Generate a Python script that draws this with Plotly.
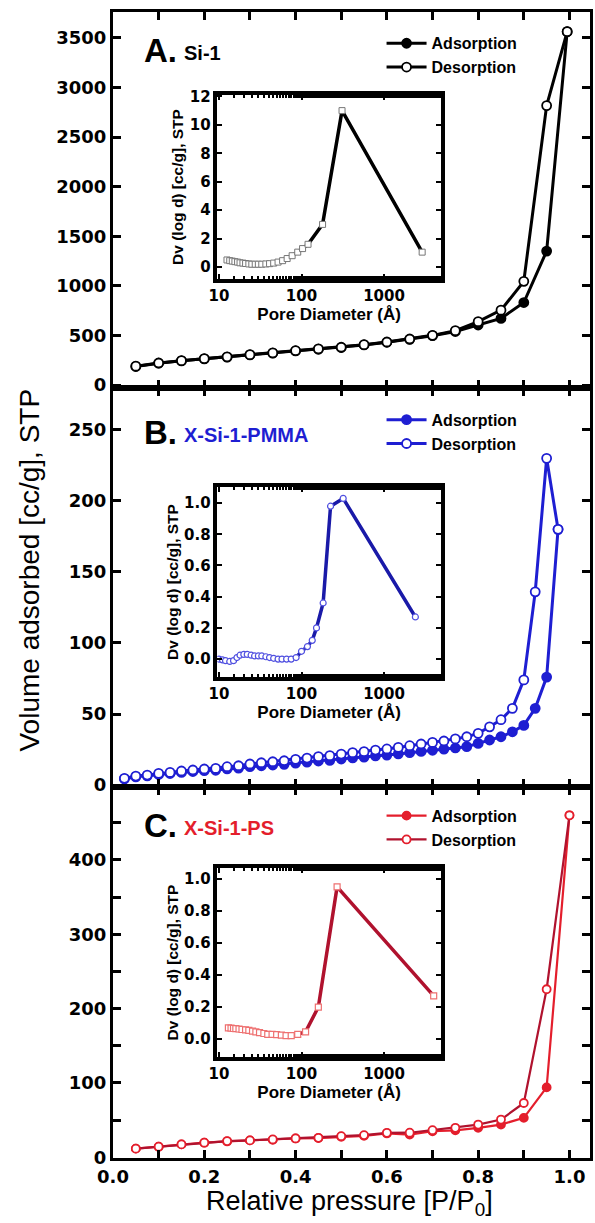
import plotly.graph_objects as go

# ---------------- data ----------------
# Panel A: Si-1
pA = [0.05, 0.10, 0.15, 0.20, 0.25, 0.30, 0.35, 0.40, 0.45, 0.50,
      0.55, 0.60, 0.65, 0.70, 0.75, 0.80, 0.85, 0.90, 0.95, 0.995]
adsA = [187, 220, 244, 264, 281, 304, 321, 344, 361, 378,
        404, 431, 461, 498, 540, 605, 672, 832, 1351, 3564]
desA = [190, 222, 246, 266, 284, 306, 324, 346, 364, 381,
        407, 434, 464, 501, 548, 639, 755, 1046, 2818, 3564]

# Panel B: X-Si-1-PMMA
pB = [0.025, 0.05, 0.075, 0.1, 0.125, 0.15, 0.175, 0.2, 0.225, 0.25,
      0.275, 0.3, 0.325, 0.35, 0.375, 0.4, 0.425, 0.45, 0.475, 0.5,
      0.525, 0.55, 0.575, 0.6, 0.625, 0.65, 0.675, 0.7, 0.725, 0.75,
      0.775, 0.8, 0.825, 0.85, 0.875, 0.9, 0.925, 0.95, 0.975]
adsB = [4.3, 5.8, 6.5, 7.5, 8.1, 8.9, 9.5, 10.1, 10.4, 11.4,
        11.9, 12.9, 13.6, 14.1, 14.6, 15.4, 16.1, 16.9, 17.4, 18.3,
        19.1, 19.6, 20.5, 21.1, 21.9, 22.8, 23.7, 24.5, 25.3, 26.1,
        27.0, 29.3, 31.7, 34.0, 37.5, 42.0, 54.0, 76.0, 180.0]
desB = [4.7, 6.3, 7.0, 8.2, 8.9, 9.9, 10.6, 11.3, 11.7, 12.9,
        13.6, 14.8, 15.7, 16.4, 17.1, 18.1, 19.0, 20.0, 20.7, 21.8,
        22.8, 23.5, 24.6, 25.4, 26.5, 27.7, 28.9, 30.0, 31.0, 32.5,
        34.0, 36.4, 41.0, 46.0, 54.0, 74.0, 136.0, 230.0, 180.0]

# Panel C: X-Si-1-PS
pC = [0.05, 0.10, 0.15, 0.20, 0.25, 0.30, 0.35, 0.40, 0.45, 0.50,
      0.55, 0.60, 0.65, 0.70, 0.75, 0.80, 0.85, 0.90, 0.95, 1.0]
adsC = [11.6, 14.2, 17.3, 19.6, 21.3, 22.7, 23.5, 25.3, 25.8, 27.6,
        28.8, 32.0, 30.5, 35.0, 36.2, 39.6, 44.0, 53.0, 94.0, 460.0]
desC = [11.6, 14.2, 17.3, 19.6, 21.8, 22.7, 24.0, 25.3, 26.2, 28.4,
        29.8, 32.9, 33.0, 36.4, 39.6, 44.0, 50.7, 73.0, 226.0, 460.0]

# Insets: pore size distributions
dA = [12.5, 13.5, 14.5, 15.6, 16.8, 18, 19.5, 21, 23, 25, 27.5, 30, 33, 37,
      41, 46, 52, 59, 67, 77, 90, 103, 120, 180, 310, 2900]
dvA = [0.5, 0.45, 0.42, 0.38, 0.35, 0.3, 0.28, 0.25, 0.22, 0.2, 0.2, 0.2, 0.2,
       0.22, 0.24, 0.28, 0.35, 0.45, 0.6, 0.8, 1.05, 1.3, 1.6, 3.0, 11.0, 1.05]

dB = [10, 11, 12, 13.5, 15, 16.5, 18, 20, 22, 24.5, 27, 30, 33, 37, 41, 46,
      52, 58, 66, 75, 86, 100, 118, 135, 152, 183, 225, 320, 2400]
dvB = [0.0, -0.005, -0.01, -0.015, -0.01, 0.01, 0.025, 0.03, 0.03, 0.025,
       0.02, 0.02, 0.02, 0.015, 0.01, 0.005, 0.0, 0.0, 0.0, 0.0, 0.01, 0.05,
       0.08, 0.12, 0.2, 0.36, 0.98, 1.03, 0.27]

dC = [13, 14, 15, 16, 17.5, 19, 21, 23, 25.5, 28, 31, 35, 39, 44, 50, 57,
      65, 75, 90, 112, 160, 270, 4000]
dvC = [0.07, 0.068, 0.066, 0.065, 0.063, 0.06, 0.058, 0.055, 0.05, 0.045,
       0.04, 0.035, 0.03, 0.03, 0.028, 0.025, 0.022, 0.022, 0.03, 0.045,
       0.2, 0.95, 0.27]

x_ticks = [0.0, 0.2, 0.4, 0.6, 0.8, 1.0]
inset_xticks = [10, 100, 1000]

# ---------------- styles ----------------
BLACK = "#000000"
BLUE = "#1e1ed2"
RED = "#e41e2c"
DARKRED = "#b0122e"
TICKFONT = dict(family="DejaVu Sans", size=18, color="black", weight="bold")
INSET_TICKFONT = dict(family="DejaVu Sans", size=15, color="black", weight="bold")
LABFONT = "Liberation Sans"

fig = go.Figure()


def iso(x, y, color, xa, ya, leg, name, filled, msize=9, lw=3, lcolor=None):
    fig.add_trace(go.Scatter(
        x=x, y=y, xaxis=xa, yaxis=ya, legend=leg, name=name,
        mode="lines+markers",
        line=dict(color=lcolor or color, width=lw),
        marker=dict(symbol="circle", size=msize,
                    color=color if filled else "white",
                    line=dict(color=color, width=1.8)),
    ))


iso(pA, adsA, BLACK, "x", "y", "legend", "Adsorption", True)
iso(pA, desA, BLACK, "x", "y", "legend", "Desorption", False)
iso(pB, adsB, BLUE, "x2", "y2", "legend2", "Adsorption", True)
iso(pB, desB, BLUE, "x2", "y2", "legend2", "Desorption", False)
iso(pC, adsC, RED, "x3", "y3", "legend3", "Adsorption", True, msize=8, lw=2.2)
iso(pC, desC, RED, "x3", "y3", "legend3", "Desorption", False, msize=8, lw=2.2, lcolor=DARKRED)

# insets
fig.add_trace(go.Scatter(x=dA, y=dvA, xaxis="x4", yaxis="y4", showlegend=False,
                         mode="lines+markers", line=dict(color="black", width=3.5),
                         marker=dict(symbol="square", size=6, color="white",
                                     line=dict(color="#777777", width=1))))
fig.add_trace(go.Scatter(x=dB, y=dvB, xaxis="x5", yaxis="y5", showlegend=False,
                         mode="lines+markers", line=dict(color="#1a1aa8", width=3.5),
                         marker=dict(symbol="circle", size=6, color="white",
                                     line=dict(color="#5050e0", width=1.2))))
fig.add_trace(go.Scatter(x=dC, y=dvC, xaxis="x6", yaxis="y6", showlegend=False,
                         mode="lines+markers", line=dict(color=DARKRED, width=3.5),
                         marker=dict(symbol="square", size=6, color="white",
                                     line=dict(color="#ee7070", width=1.2))))

frame = dict(showline=True, linewidth=3, linecolor="black", mirror="allticks",
             ticks="inside", tickcolor="black", showgrid=False, zeroline=False)

xmain = dict(frame, range=[0, 1.045], tickvals=x_ticks, ticklen=8, tickwidth=2.5,
             minor=dict(ticks="inside", ticklen=8, tickwidth=2.5, dtick=0.1,
                        tick0=0, tickcolor="black", showgrid=False),
             tickformat=".1f", tickfont=TICKFONT)

ydoms = {"A": [0.6719, 1.0], "B": [0.3237, 0.6719], "C": [0.0, 0.3237]}

fig.update_layout(
    width=595, height=1223,
    margin=dict(l=113, r=2, t=12, b=65),
    paper_bgcolor="white", plot_bgcolor="white",
    xaxis=dict(xmain, anchor="y", showticklabels=False),
    xaxis2=dict(xmain, anchor="y2", showticklabels=False),
    xaxis3=dict(xmain, anchor="y3", showticklabels=True),
    yaxis=dict(frame, domain=ydoms["A"], range=[-30, 3762], dtick=500, tick0=0,
               ticklen=8, tickwidth=2.5, tickfont=TICKFONT),
    yaxis2=dict(frame, domain=ydoms["B"], range=[-1.4, 279.5], dtick=50, tick0=0,
                ticklen=8, tickwidth=2.5, tickfont=TICKFONT),
    yaxis3=dict(frame, domain=ydoms["C"], range=[-1, 498], dtick=100, tick0=0,
                ticklen=8, tickwidth=2.5, tickfont=TICKFONT,
                minor=dict(ticks="inside", ticklen=8, tickwidth=2.5, dtick=50,
                           tick0=0, tickcolor="black", showgrid=False)),
    showlegend=True,
)

inset_x = dict(frame, type="log", range=[0.98, 3.69], tickvals=inset_xticks,
               ticktext=[str(v) for v in inset_xticks], linewidth=3.5,
               ticklen=5, tickwidth=2,
               minor=dict(ticks="inside", ticklen=3, tickwidth=1.5,
                          tickcolor="black", showgrid=False),
               tickfont=INSET_TICKFONT,
               title=dict(text="Pore Diameter (Å)", standoff=1,
                          font=dict(family=LABFONT, size=17, weight="bold", color="black")))
inset_y = dict(frame, linewidth=3.5, ticklen=5, tickwidth=2, tickfont=INSET_TICKFONT,
               title=dict(text="Dv (log d) [cc/g], STP", standoff=3,
                          font=dict(family=LABFONT, size=15.5, weight="bold", color="black")))
xin = [0.21875, 0.6875]
fig.update_layout(
    xaxis4=dict(inset_x, domain=xin, anchor="y4"),
    yaxis4=dict(inset_y, domain=[0.767, 0.9276], anchor="x4", range=[-0.84, 12.1], dtick=2, tick0=0),
    xaxis5=dict(inset_x, domain=xin, anchor="y5"),
    yaxis5=dict(inset_y, domain=[0.4197, 0.5855], anchor="x5", range=[-0.115, 1.103],
                dtick=0.2, tick0=0, tickformat=".1f"),
    xaxis6=dict(inset_x, domain=xin, anchor="y6"),
    yaxis6=dict(inset_y, domain=[0.0881, 0.2531], anchor="x6", range=[-0.112, 1.068],
                dtick=0.2, tick0=0, tickformat=".1f"),
)

legfont = dict(family=LABFONT, size=16, color="black", weight="bold")
legcommon = dict(xref="paper", yref="paper", xanchor="left", yanchor="top",
                 bgcolor="rgba(0,0,0,0)", font=legfont, itemwidth=40,
                 tracegroupgap=0)
fig.update_layout(
    legend=dict(legcommon, x=0.563, y=0.9875),
    legend2=dict(legcommon, x=0.563, y=0.659),
    legend3=dict(legcommon, x=0.563, y=0.3135),
)

# panel labels
def panel_label(letter, sub, color, ycen):
    fig.add_annotation(text=letter, xref="paper", yref="paper",
                       x=(142 - 113) / 480, y=(1158 - ycen) / 1146,
                       xanchor="left", yanchor="middle", showarrow=False,
                       font=dict(family=LABFONT, size=33, weight="bold", color="black"))
    fig.add_annotation(text=sub, xref="paper", yref="paper",
                       x=(182 - 113) / 480, y=(1158 - ycen - 3) / 1146,
                       xanchor="left", yanchor="middle", showarrow=False,
                       font=dict(family=LABFONT, size=20, weight="bold", color=color))


panel_label("A.", "Si-1", "black", 50)
panel_label("B.", "X-Si-1-PMMA", BLUE, 432)
panel_label("C.", "X-Si-1-PS", RED, 825)

fig.add_annotation(text="Volume adsorbed [cc/g], STP", xref="paper", yref="paper",
                   x=(28 - 113) / 480, y=(1158 - 570) / 1146, textangle=-90,
                   showarrow=False, xanchor="center", yanchor="middle",
                   font=dict(family=LABFONT, size=28, color="black"))
fig.add_annotation(text="Relative pressure [P/P<sub>0</sub>]", xref="paper", yref="paper",
                   x=(351 - 113) / 480, y=(1158 - 1203) / 1146,
                   showarrow=False, xanchor="center", yanchor="middle",
                   font=dict(family=LABFONT, size=27, color="black"))

fig.write_html("out.html")
